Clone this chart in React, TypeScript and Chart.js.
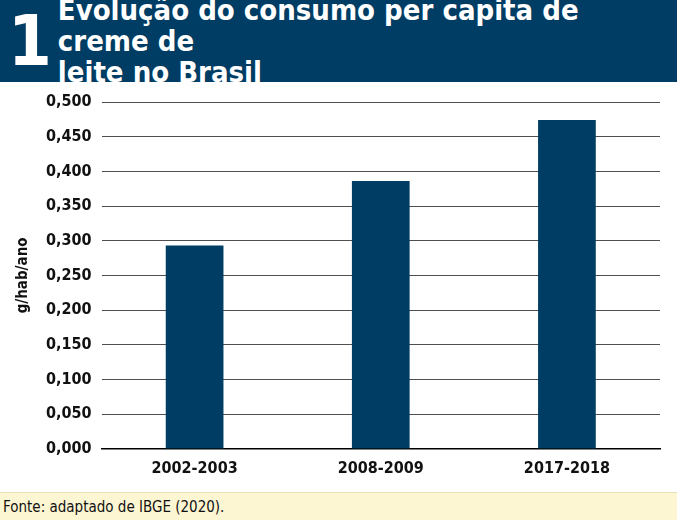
import React, { useEffect, useRef } from "react";
import { Chart, registerables } from "chart.js";
Chart.register(...registerables);

const categories = ["2002-2003", "2008-2009", "2017-2018"];
const values = [0.293, 0.386, 0.474];
const yTicks = [0, 0.05, 0.1, 0.15, 0.2, 0.25, 0.3, 0.35, 0.4, 0.45, 0.5];

const FONT = "'Liberation Sans Narrow', 'DejaVu Sans Condensed', 'Roboto', sans-serif";
const BLUE = "#003d64";

export default function App() {
  const ref = useRef<HTMLCanvasElement>(null);
  useEffect(() => {
    document.body.style.margin = "0";
    const chart = new Chart(ref.current!, {
      type: "bar",
      data: {
        labels: categories,
        datasets: [{ data: values, backgroundColor: BLUE, barPercentage: 0.31, categoryPercentage: 1 }],
      },
      options: {
        animation: false,
        responsive: false,
        maintainAspectRatio: false,
        layout: { padding: { top: 20, right: 17, left: 10, bottom: 4 } },
        plugins: { legend: { display: false }, tooltip: { enabled: false } },
        scales: {
          x: {
            grid: { display: false, drawTicks: false },
            border: { color: "#000", width: 1.5 },
            ticks: { color: "#111", font: { family: FONT, size: 16, weight: "bold" }, padding: 10 },
          },
          y: {
            min: 0,
            max: 0.5,
            afterBuildTicks: (s: any) => { s.ticks = yTicks.map((v) => ({ value: v })); },
            grid: { color: "#222", lineWidth: 0.8, drawTicks: false },
            border: { display: false },
            ticks: {
              color: "#111",
              padding: 10,
              font: { family: FONT, size: 16, weight: "bold" },
              callback: (v: any) => Number(v).toFixed(3).replace(".", ","),
            },
            title: { display: true, text: "g/hab/ano", color: "#111", font: { family: FONT, size: 15, weight: "bold" } },
          },
        },
      },
    });
    return () => chart.destroy();
  }, []);
  return (
    <div style={{ width: 677, height: 520, position: "relative", background: "#fff", fontFamily: FONT, overflow: "hidden" }}>
      <div style={{ height: 82, background: BLUE, color: "#fff", display: "flex", alignItems: "center", boxSizing: "border-box", padding: "0 0 0 8px" }}>
        <div style={{ fontSize: 70, fontWeight: "bold", lineHeight: "70px", marginRight: 6 }}>1</div>
        <div style={{ fontSize: 29, fontWeight: "bold", lineHeight: "31px" }}>
          Evolução do consumo per capita de creme de<br />leite no Brasil
        </div>
      </div>
      <canvas ref={ref} width={677} height={410} style={{ display: "block" }} />
      <div style={{ position: "absolute", left: 0, top: 492, width: 677, height: 28, background: "#fdf6d2", color: "#111", fontSize: 15, lineHeight: "28px", paddingLeft: 3, boxSizing: "border-box", borderTop: "1px solid #e8e0b0" }}>
        Fonte: adaptado de IBGE (2020).
      </div>
    </div>
  );
}
